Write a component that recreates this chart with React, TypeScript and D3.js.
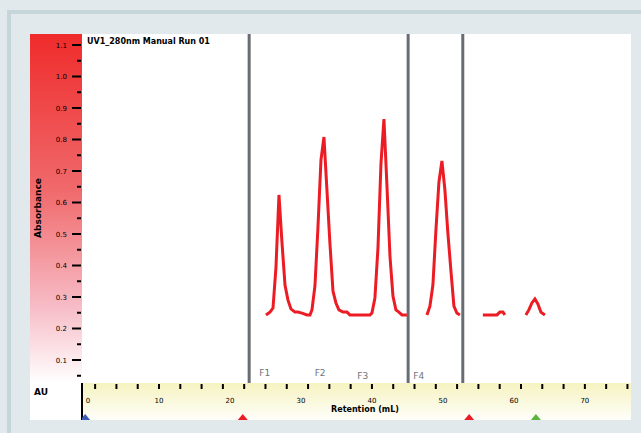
import React from 'react'
import * as d3 from 'd3'

// chromatogram trace, null marks a break in the recorded trace
const retention = [
  25.07, 25.63, 26.06, 26.48, 26.9, 27.32, 27.75, 28.17, 28.59, 29.15, 29.58, 30.14, 30.85, 31.27,
  31.55, 31.97, 32.39, 32.82, 33.24, 33.66, 34.08, 34.51, 34.93, 35.35, 35.92, 36.48, 36.9, 38.31,
  39.72, 40.0, 40.42, 40.85, 41.27, 41.69, 42.11, 42.54, 42.96, 43.38, 43.8, 44.23, 44.93, 46.3,
  47.75, 48.17, 48.59, 49.01, 49.44, 49.86, 50.28, 50.7, 51.13, 51.55, 51.97, 52.39, 54.0,
  55.63, 57.61, 58.03, 58.45, 58.73, 60.2,
  61.69, 62.11, 62.54, 62.96, 63.38, 63.8, 64.37,
]
const absorbance = [
  0.243, 0.252, 0.265, 0.395, 0.624, 0.475, 0.338, 0.29, 0.262, 0.252, 0.252, 0.249, 0.243, 0.243,
  0.259, 0.335, 0.519, 0.735, 0.808, 0.64, 0.471, 0.319, 0.281, 0.259, 0.252, 0.252, 0.243, 0.243,
  0.243, 0.249, 0.297, 0.456, 0.722, 0.865, 0.656, 0.43, 0.303, 0.259, 0.252, 0.243, 0.243, null,
  0.243, 0.271, 0.338, 0.51, 0.665, 0.732, 0.64, 0.503, 0.383, 0.271, 0.249, 0.243, null,
  0.243, 0.243, 0.252, 0.252, 0.243, null,
  0.243, 0.259, 0.281, 0.294, 0.278, 0.252, 0.243,
]

const fractionCuts = [22.7, 45.1, 52.8]
const fractionNames = ['F1', 'F2', 'F3', 'F4']
const fractionLabelAt = [24.9, 32.7, 38.7, 46.6]

const xTickLabels = [0, 10, 20, 30, 40, 50, 60, 70]
const xMinorTicks = d3.range(1, 77, 3)
const yTickLabels = [1.1, 1.0, 0.9, 0.8, 0.7, 0.6, 0.5, 0.4, 0.3, 0.2, 0.1]
const yMinorTicks = d3.range(0.05, 1.15, 0.1)

const eventAt = [-0.4, 21.8, 53.7, 63.1]
const eventKind = ['inject', 'fraction', 'fraction', 'wash']

const title = 'UV1_280nm  Manual Run 01'
const xTitle = 'Retention (mL)'
const yTitle = 'Absorbance'

const W = 641
const H = 433
const plotL = 82
const plotR = 631
const plotT = 34
const plotB = 383
const bandB = 420

const eventColor = { inject: '#3b5bb5', fraction: '#ec1c24', wash: '#5cb43e' }

const App = () => {
  const x = d3.scaleLinear().domain([-0.85, 76.5]).range([plotL, plotR])
  const y = d3.scaleLinear().domain([0, 1.1]).range([391.5, 45])

  const points = retention.map((t, i) => [t, absorbance[i]])
  const line = d3.line()
    .defined(d => d[1] != null)
    .x(d => x(d[0]))
    .y(d => y(d[1]))

  return (
    <svg width={W} height={H} style={{ position: 'absolute', left: 0, top: 0 }}
      fontFamily="'DejaVu Sans', sans-serif">
      <defs>
        <linearGradient id="redStrip" x1="0" y1="0" x2="0" y2="1">
          <stop offset="0" stopColor="#ef2b2b" />
          <stop offset="0.45" stopColor="#f06a6c" />
          <stop offset="0.78" stopColor="#f7bcc6" />
          <stop offset="1" stopColor="#ffffff" />
        </linearGradient>
        <linearGradient id="yellowBand" x1="0" y1="0" x2="0" y2="1">
          <stop offset="0" stopColor="#f6f3c0" />
          <stop offset="1" stopColor="#fefefa" />
        </linearGradient>
        <clipPath id="plotClip">
          <rect x={plotL} y={plotT} width={plotR - plotL} height={plotB - plotT} />
        </clipPath>
        <clipPath id="bandClip">
          <rect x={plotL} y={plotB} width={plotR - plotL} height={bandB - plotB} />
        </clipPath>
      </defs>

      <rect width={W} height={H} fill="#e1e9ec" />
      <rect x={7} y={10} width={W - 7} height={4} fill="#c5d5da" />
      <rect x={7} y={10} width={4} height={H - 10} fill="#c5d5da" />
      <rect x={30} y={plotT} width={plotR - 30} height={bandB - plotT} fill="#ffffff" />

      <rect x={30} y={plotT} width={plotL - 30} height={plotB - plotT} fill="url(#redStrip)" />
      <rect x={plotL} y={plotB} width={plotR - plotL} height={bandB - plotB} fill="url(#yellowBand)" />

      {/* y axis */}
      {yTickLabels.map(v => (
        <g key={v}>
          <line x1={72} x2={81} y1={y(v)} y2={y(v)} stroke="#000" strokeWidth={2} />
          <text x={67} y={y(v) + 2.5} fontSize={7} textAnchor="end" fill="#000">{d3.format('.1f')(v)}</text>
        </g>
      ))}
      {yMinorTicks.map(v => (
        <line key={v} x1={77} x2={81} y1={y(v)} y2={y(v)} stroke="#000" strokeWidth={2} />
      ))}
      <text transform={`translate(41,208) rotate(-90)`} fontSize={9} fontWeight="bold" textAnchor="middle" fill="#000">{yTitle}</text>
      <text x={34} y={395} fontSize={9} fontWeight="bold" fill="#000">AU</text>

      {/* title */}
      <text x={87} y={44} fontSize={8} fontWeight="bold" fill="#000">{title}</text>

      {/* fraction cuts */}
      {fractionCuts.map(t => (
        <line key={t} x1={x(t)} x2={x(t)} y1={plotT} y2={plotB} stroke="#676d72" strokeWidth={3} />
      ))}
      {fractionNames.map((n, i) => (
        <text key={n} x={x(fractionLabelAt[i])} y={i < 2 ? 376 : 379} fontSize={9} textAnchor="middle" fill="#6e7479">{n}</text>
      ))}

      {/* trace */}
      <path d={line(points)} fill="none" stroke="#ec1c24" strokeWidth={3} clipPath="url(#plotClip)" />

      {/* x axis band */}
      <line x1={plotL} x2={plotL} y1={plotB} y2={bandB} stroke="#000" strokeWidth={2} />
      {xMinorTicks.map(t => (
        <line key={t} x1={x(t)} x2={x(t)} y1={plotB + 1} y2={plotB + 6} stroke="#000" strokeWidth={2} />
      ))}
      {xTickLabels.map(t => (
        <text key={t} x={x(t)} y={403} fontSize={7} textAnchor="middle" fill="#000">{t}</text>
      ))}
      <text x={365} y={412} fontSize={8} fontWeight="bold" textAnchor="middle" fill="#000">{xTitle}</text>
      <g clipPath="url(#bandClip)">
        {eventAt.map((t, i) => (
          <path key={i}
            d={`M${x(t) - 5},${bandB} L${x(t)},${bandB - 6} L${x(t) + 5},${bandB} Z`}
            fill={eventColor[eventKind[i]]} />
        ))}
      </g>
    </svg>
  )
}

export default App
